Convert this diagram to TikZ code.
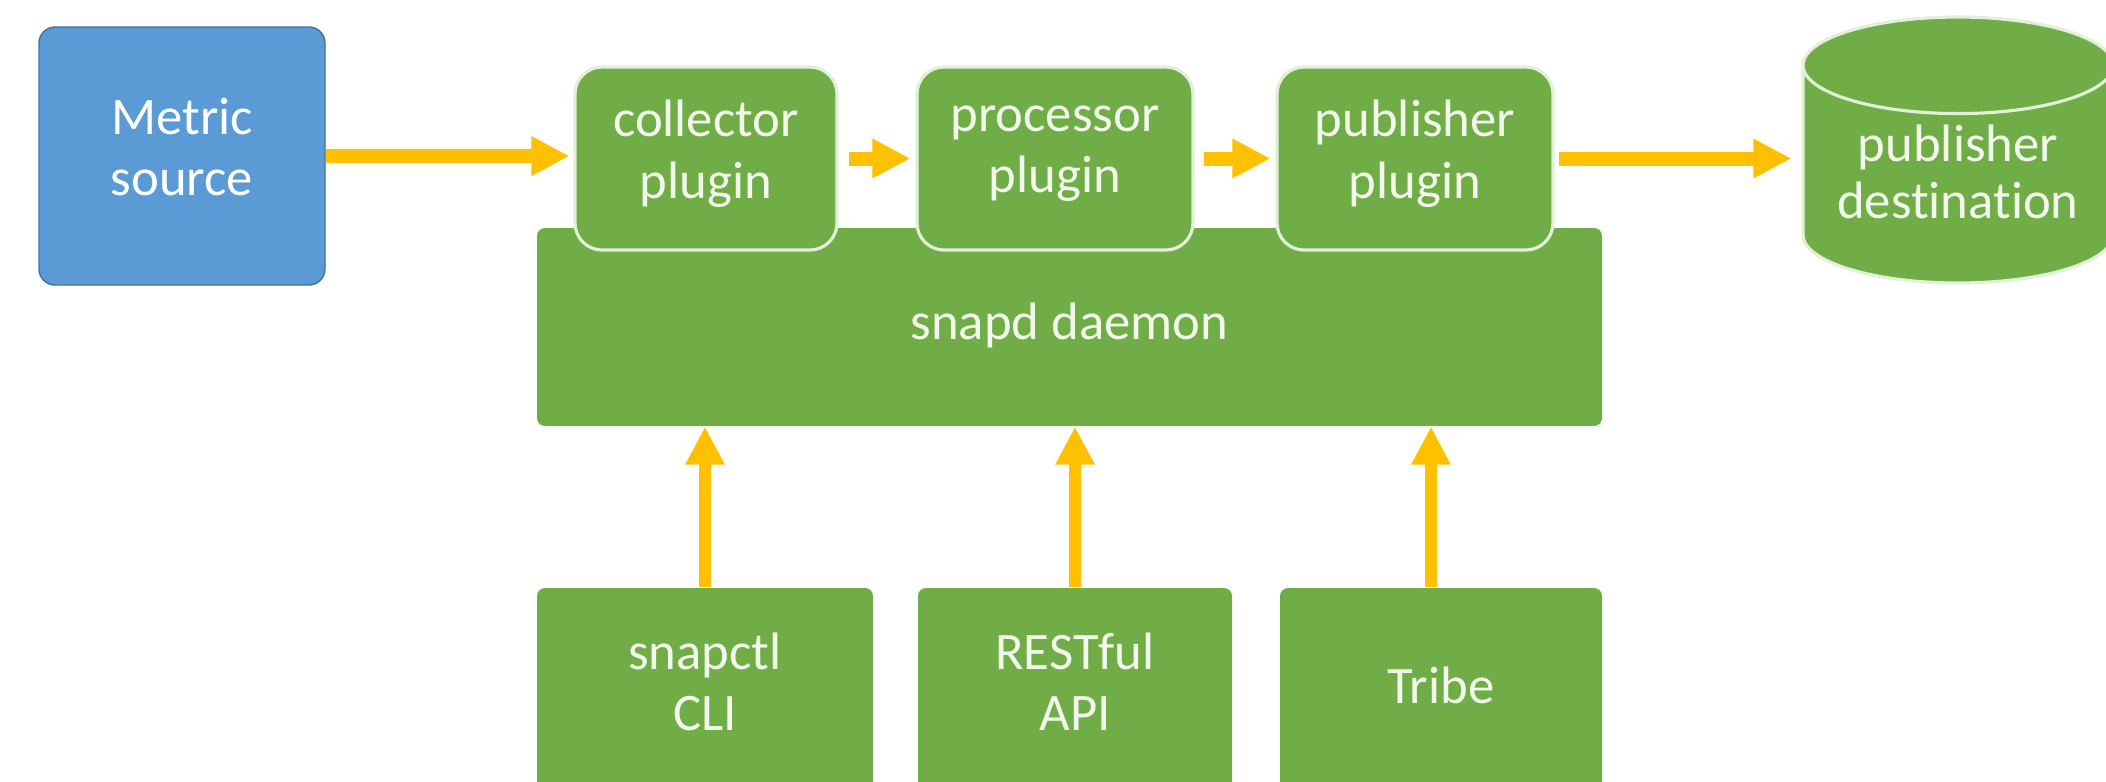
\documentclass[tikz,border=0pt]{standalone}
\usepackage{fontspec}
\setmainfont{Carlito}[Ligatures=NoCommon]
\usetikzlibrary{arrows.meta,shapes.geometric,positioning}

\definecolor{snapgreen}{HTML}{70AD47}
\definecolor{snapblue}{HTML}{5B9BD5}
\definecolor{snapblueline}{HTML}{41719C}
\definecolor{snaporange}{HTML}{FFC000}
\definecolor{snaprim}{HTML}{E2F0D9}
\definecolor{snaptext}{HTML}{F2F8EC}

\tikzset{
	words/.style={text=snaptext, align=center, inner sep=0pt,
		font=\fontsize{15}{17.5}\selectfont,
		execute at begin node=\strut, execute at end node=\strut},
	box/.style={words, fill=snapgreen},
	plugin/.style={box, draw=snaprim, line width=0.9pt, rounded corners=0.27cm,
		minimum height=1.83cm},
	flat/.style={box, rounded corners=0.08cm},
	flow/.style={draw=snaporange, line width=0.14cm,
		-{Triangle[length=0.38cm,width=0.37cm]}},
	feed/.style={flow, line width=0.12cm},
}

\begin{document}
\begin{tikzpicture}

	\useasboundingbox (0,0) rectangle (21.06,-7.81);
	\clip (0,0) rectangle (21.06,-7.81);

	% Quelle
	\node[box, fill=snapblue, draw=snapblueline, line width=0.4pt, text=white,
		rounded corners=0.16cm, minimum width=2.86cm, minimum height=2.58cm]
		(source) at (1.82,-1.56) {Metric\\source};

	% Daemon
	\node[flat, minimum width=10.65cm, minimum height=1.98cm]
		(daemon) at (10.695,-3.27) {snapd daemon};

	% Plugins
	\node[plugin, minimum width=2.62cm] (collector) at (7.06,-1.585) {collector\\plugin};
	\node[plugin, minimum width=2.76cm] (processor) at (10.55,-1.585) {processor\\plugin};
	\node[plugin, minimum width=2.76cm] (publisher) at (14.15,-1.585) {publisher\\plugin};

	% Ziel
	\node[fill=snapgreen, draw=snaprim, line width=0.9pt, inner sep=0pt,
		font=\fontsize{15}{17.5}\selectfont, shape=cylinder, shape border rotate=90,
		aspect=0.40, minimum width=3.10cm, minimum height=2.66cm, anchor=shape center]
		(dest) at (19.58,-1.50) {\phantom{destination}};
	\node[words, font=\fontsize{15}{16.2}\selectfont] (destname) at (19.58,-1.80)
		{publisher\\destination};

	% Clients
	\node[flat, minimum width=3.36cm, minimum height=2.06cm] (cli) at (7.05,-6.91) {snapctl\\CLI};
	\node[flat, minimum width=3.14cm, minimum height=2.06cm] (rest) at (10.75,-6.91) {RESTful\\API};
	\node[flat, minimum width=3.22cm, minimum height=2.06cm] (tribe) at (14.41,-6.91) {Tribe};

	\draw[flow, shorten >=0.04cm] (source.east) -- (source.east -| collector.west);
	\draw[flow, shorten <=0.10cm, shorten >=0.05cm] (collector) -- (processor);
	\draw[flow, shorten <=0.09cm, shorten >=0.05cm] (processor) -- (publisher);
	\draw[flow, shorten <=0.04cm, shorten >=0.10cm] (publisher.east) -- (publisher.east -| dest.west);

	\draw[feed] (cli) -- (cli |- daemon.south);
	\draw[feed] (rest) -- (rest |- daemon.south);
	\draw[feed] ([xshift=-0.1cm]tribe.north) -- ([xshift=-0.1cm]tribe.north |- daemon.south);

\end{tikzpicture}
\end{document}
